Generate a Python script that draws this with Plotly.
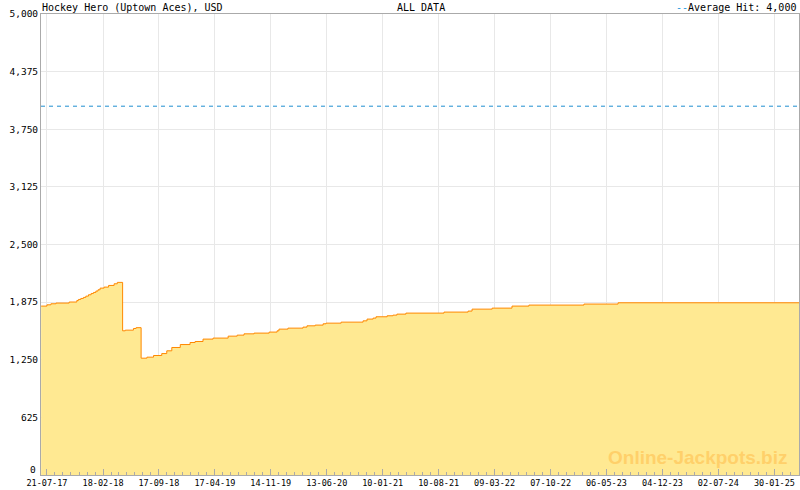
import pandas as pd
import plotly.graph_objects as go

# ---- data ----
jackpot_dates = [
    "2017-06-29", "2017-07-21", "2017-08-05", "2017-08-24", "2017-10-13",
    "2017-11-11", "2017-11-17", "2017-11-26", "2017-12-06", "2017-12-15",
    "2017-12-25", "2018-01-04", "2018-01-13", "2018-01-22", "2018-01-30",
    "2018-02-07", "2018-02-22", "2018-03-11", "2018-04-01", "2018-04-13",
    "2018-05-03", "2018-05-13", "2018-06-13", "2018-06-23", "2018-07-12",
    "2018-08-03", "2018-08-28", "2018-09-28", "2018-10-17", "2018-11-05",
    "2018-12-07", "2019-01-13", "2019-02-01", "2019-03-03", "2019-04-10",
    "2019-06-06", "2019-07-10", "2019-08-05", "2019-09-12", "2019-11-08",
    "2019-12-08", "2019-12-15", "2020-01-18", "2020-03-15", "2020-03-30",
    "2020-04-30", "2020-05-30", "2020-06-10", "2020-08-06", "2020-10-28",
    "2020-11-12", "2020-12-05", "2020-12-16", "2021-01-27", "2021-02-18",
    "2021-03-05", "2021-04-08", "2021-08-30", "2021-11-29", "2021-12-14",
    "2022-02-28", "2022-05-14", "2022-07-17", "2023-02-10", "2023-06-19",
    "2025-05-03",
]
jackpot_values = [
    1832, 1846, 1857, 1865, 1876,
    1893, 1904, 1915, 1926, 1940,
    1955, 1969, 1980, 1995, 2009,
    2027, 2038, 2056, 2074, 2089,
    1564, 1571, 1589, 1598, 1267,
    1278, 1296, 1317, 1347, 1383,
    1415, 1437, 1448, 1474, 1485,
    1506, 1517, 1531, 1539, 1550,
    1564, 1582, 1593, 1604, 1618,
    1626, 1640, 1647, 1658, 1672,
    1691, 1702, 1716, 1727, 1734,
    1745, 1756, 1767, 1778, 1799,
    1810, 1832, 1843, 1854, 1868,
    1868,
]
average_hit = 4000
tick_dates = [
    "2017-07-21", "2018-02-18", "2018-09-17", "2019-04-17", "2019-11-14",
    "2020-06-13", "2021-01-10", "2021-08-10", "2022-03-09", "2022-10-07",
    "2023-05-06", "2023-12-04", "2024-07-02", "2025-01-30",
]
y_ticks = [0, 625, 1250, 1875, 2500, 3125, 3750, 4375, 5000]
title_text = "Hockey Hero (Uptown Aces), USD"
center_text = "ALL DATA"
legend_text = "Average Hit: 4,000"
watermark = "Online-Jackpots.biz"

# minor ticks: 6 between each pair of major ticks
td = pd.to_datetime(tick_dates)
minor = []
for a, b in zip(td[:-1], td[1:]):
    step = (b - a) / 7
    minor += [a + step * k for k in range(1, 7)]
step = (td[-1] - td[-2]) / 7
minor += [td[-1] + step * k for k in range(1, 4)]

MONO = "DejaVu Sans Mono"

# y labels: the "0" label is drawn slightly raised (as in the original) via annotation
y_text = ["" if v == 0 else f"{v:,}" for v in y_ticks]

fig = go.Figure()
fig.add_trace(go.Scatter(
    x=jackpot_dates, y=jackpot_values, mode="lines", line_shape="hv",
    line=dict(color="#ff8800", width=1), fill="tozeroy", fillcolor="#ffe992",
    hoverinfo="skip", showlegend=False,
))
fig.add_shape(type="line", xref="x domain", x0=0, x1=1, yref="y",
              y0=average_hit, y1=average_hit,
              line=dict(color="#1f8fd0", width=1, dash="4px,4px"), layer="above")

fig.update_layout(
    width=800, height=490,
    margin=dict(l=41, r=1, t=14, b=15),
    paper_bgcolor="white", plot_bgcolor="white",
    showlegend=False,
    xaxis=dict(
        type="date", range=["2017-06-28 12:00", "2025-05-03"],
        tickmode="array", tickvals=tick_dates,
        ticktext=[pd.Timestamp(d).strftime("%d-%m-%y") for d in tick_dates],
        ticks="inside", ticklen=6, tickcolor="#aaaaaa", tickwidth=1,
        showgrid=True, gridcolor="#e8e8e8", gridwidth=1,
        showline=True, linecolor="#aaaaaa", linewidth=1, mirror=True,
        tickfont=dict(family=MONO, size=8.5, color="black"),
        minor=dict(tickmode="array", tickvals=minor, ticks="inside", ticklen=3,
                   tickcolor="#aaaaaa", showgrid=False),
        fixedrange=True, zeroline=False, automargin=False,
    ),
    yaxis=dict(
        range=[0, 5000], tickmode="array", tickvals=y_ticks, ticktext=y_text,
        showgrid=True, gridcolor="#e8e8e8", gridwidth=1,
        showline=True, linecolor="#aaaaaa", linewidth=1, mirror=True,
        ticks="", tickfont=dict(family=MONO, size=9.5, color="black"),
        zeroline=False, automargin=False, fixedrange=True,
    ),
    annotations=[
        dict(text=title_text, xref="paper", yref="paper", x=0, y=1,
             xanchor="left", yanchor="bottom", showarrow=False,
             font=dict(family=MONO, size=10, color="black"), borderpad=0),
        dict(text=center_text, xref="paper", yref="paper", x=0.501, y=1,
             xanchor="center", yanchor="bottom", showarrow=False,
             font=dict(family=MONO, size=10, color="black"), borderpad=0),
        dict(text='<span style="color:#2299dd">--</span>' + legend_text,
             xref="paper", yref="paper", x=0.997, y=1,
             xanchor="right", yanchor="bottom", showarrow=False,
             font=dict(family=MONO, size=10, color="black"), borderpad=0),
        dict(text=str(y_ticks[0]), xref="paper", yref="y", x=0, y=y_ticks[0],
             xanchor="right", yanchor="bottom", xshift=-4, yshift=-1,
             showarrow=False, borderpad=0,
             font=dict(family=MONO, size=9.5, color="black")),
        dict(text="<b>" + watermark + "</b>", xref="paper", yref="paper",
             x=0.987, y=0.037, xanchor="right", yanchor="middle", showarrow=False,
             font=dict(family="Liberation Sans", size=19, color="#ffd06a")),
    ],
)

fig.write_html(
    "out.html",
    config={"displayModeBar": False},
    post_script="document.body.style.margin='0';document.body.style.overflow='hidden';",
)
